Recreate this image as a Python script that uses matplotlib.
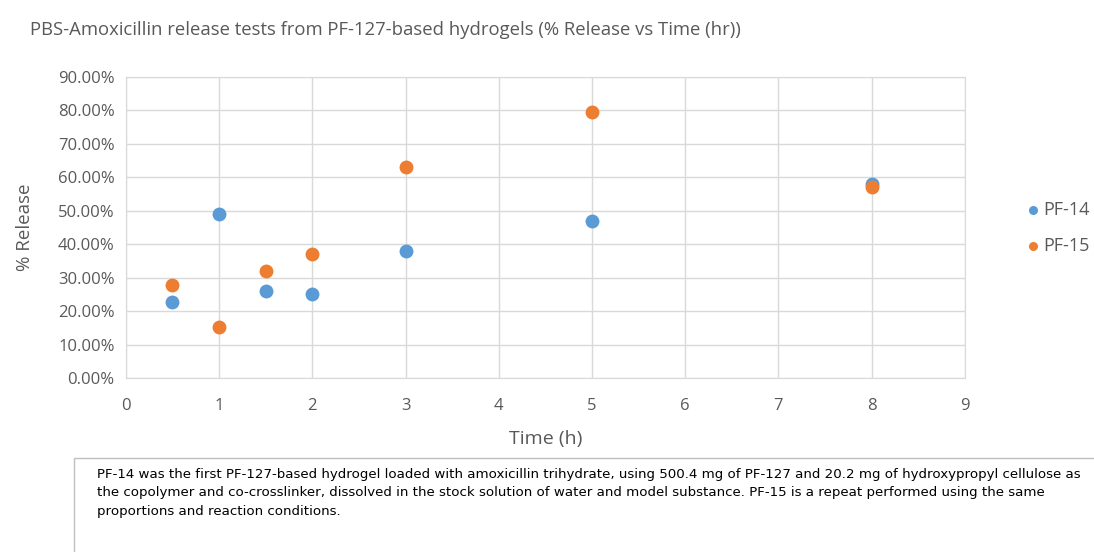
import matplotlib.pyplot as plt
from matplotlib.patches import Rectangle
from matplotlib.ticker import FuncFormatter

# Release data (fraction of drug released vs time in hours)
time_pf14 = [0.5, 1, 1.5, 2, 3, 5, 8]
release_pf14 = [0.227, 0.490, 0.260, 0.251, 0.380, 0.469, 0.580]
time_pf15 = [0.5, 1, 1.5, 2, 3, 5, 8]
release_pf15 = [0.278, 0.152, 0.320, 0.371, 0.631, 0.795, 0.571]
series_names = ['PF-14', 'PF-15']
note = ('PF-14 was the first PF-127-based hydrogel loaded with amoxicillin trihydrate, '
        'using 500.4 mg of PF-127 and 20.2 mg of hydroxypropyl cellulose as\n'
        'the copolymer and co-crosslinker, dissolved in the stock solution of water '
        'and model substance. PF-15 is a repeat performed using the same\n'
        'proportions and reaction conditions.')

grey = '#595959'
plt.rcParams['font.family'] = ['Open Sans', 'DejaVu Sans']

fig = plt.figure(figsize=(10.94, 5.52), dpi=100)
ax = fig.add_axes([0.115, 0.315, 0.767, 0.5455])

ax.scatter(time_pf14, release_pf14, s=100, color='#5B9BD5', label=series_names[0],
           zorder=3, linewidths=0)
ax.scatter(time_pf15, release_pf15, s=100, color='#ED7D31', label=series_names[1],
           zorder=3, linewidths=0)

ax.set_xlim(0, 9)
ax.set_ylim(0, 0.9)
ax.set_xticks(range(0, 10))
ax.set_yticks([i / 10 for i in range(10)])
ax.yaxis.set_major_formatter(FuncFormatter(lambda v, _: f'{v * 100:.2f}%'))
ax.grid(True, color='#d9d9d9', linewidth=1)
ax.set_axisbelow(True)
for side in ax.spines.values():
    side.set_color('#d9d9d9')
ax.tick_params(length=0, colors=grey, labelsize=12)
ax.tick_params(axis='x', pad=14)
ax.tick_params(axis='y', pad=8)

ax.set_xlabel('Time (h)', color=grey, fontsize=14, labelpad=12)
ax.set_ylabel('% Release', color=grey, fontsize=13.5, labelpad=17)

fig.text(0.027, 0.945, 'PBS-Amoxicillin release tests from PF-127-based hydrogels '
         '(% Release vs Time (hr))', color=grey, fontsize=13.3, va='center')

ax.legend(loc='center left', bbox_to_anchor=(1.07, 0.5), frameon=False,
          fontsize=13, labelcolor=grey, handletextpad=0.1, labelspacing=1.0,
          markerscale=0.65, borderaxespad=0, borderpad=0, handlelength=1.0)

# text box with experiment notes, running off the right edge
box = Rectangle((0.0677, -0.05), 1.0, 0.22, transform=fig.transFigure,
                facecolor='white', edgecolor='#bfbfbf', linewidth=1)
fig.add_artist(box)
fig.text(0.089, 0.153, note, fontsize=9.6, va='top', color='black',
         family=['Liberation Sans Narrow', 'DejaVu Sans'], linespacing=1.55)

fig.savefig('out.png', dpi=100)
